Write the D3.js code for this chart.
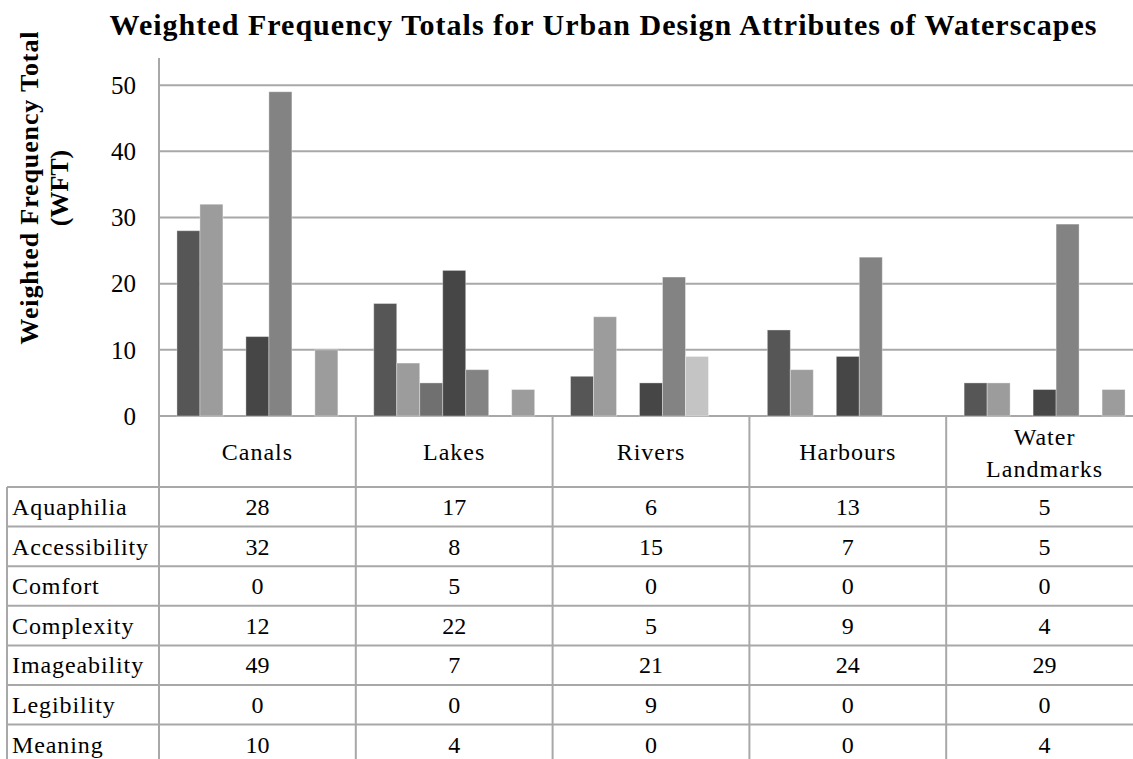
<!DOCTYPE html>
<html>
<head>
<meta charset="utf-8">
<script src="https://cdn.jsdelivr.net/npm/d3@7"></script>
<style>
  body { margin: 0; background: #fff; }
</style>
</head>
<body>
<div class="chart"></div>
<script>
// data
var categories = ["Canals", "Lakes", "Rivers", "Harbours", "Water Landmarks"];
var series = ["Aquaphilia", "Accessibility", "Comfort", "Complexity", "Imageability", "Legibility", "Meaning"];
var aquaphilia    = [28, 17, 6, 13, 5];
var accessibility = [32, 8, 15, 7, 5];
var comfort       = [0, 5, 0, 0, 0];
var complexity    = [12, 22, 5, 9, 4];
var imageability  = [49, 7, 21, 24, 29];
var legibility    = [0, 0, 9, 0, 0];
var meaning       = [10, 4, 0, 0, 4];
var yTicks = [0, 10, 20, 30, 40, 50];

var values = [aquaphilia, accessibility, comfort, complexity, imageability, legibility, meaning];
var colors = ["#565656", "#9c9c9c", "#707070", "#464646", "#838383", "#c4c4c4", "#9c9c9c"];
var gridColor = "#a8a8a8";
var serif = "'Liberation Serif', 'Times New Roman', Times, serif";

var W = 1133, H = 759;
var svg = d3.select(".chart")
    .append("svg")
    .attr("width", W)
    .attr("height", H)
    .attr("font-family", serif)
    .style("font-family", serif)

var left = 159, plotTop = 58, base = 416;
var x = d3.scaleBand().domain(categories).range([left, left + 5 * 196.8]).padding(0);
var xs = d3.scaleBand().domain(series).range([0, x.bandwidth()]).paddingInner(0).paddingOuter(0.78);
var y = d3.scaleLinear().domain([0, 54.1]).range([base, plotTop]);

function txt(sel, size) {
    return sel.append("text")
        .style("font-family", serif)
        .style("font-size", size + "px")
        .attr("fill", "#000")
}

// gridlines
svg.selectAll("line.grid")
    .data(yTicks)
    .enter()
    .append("line")
    .attr("class", "grid")
    .attr("x1", left)
    .attr("x2", W)
    .attr("y1", function (d) { return y(d); })
    .attr("y2", function (d) { return y(d); })
    .attr("stroke", gridColor)
    .attr("stroke-width", 2)

// tick labels
yTicks.forEach(function (t) {
    txt(svg, 25)
        .attr("x", 136)
        .attr("y", y(t))
        .attr("dy", "0.35em")
        .attr("text-anchor", "end")
        .text(t)
})

// bars
var groups = svg.selectAll("g.cat")
    .data(categories)
    .enter()
    .append("g")
    .attr("class", "cat")
    .attr("transform", function (d) { return "translate(" + x(d) + ",0)"; })

groups.selectAll("rect")
    .data(function (c, ci) {
        return series.map(function (s, si) { return { s: s, si: si, v: values[si][ci] }; })
            .filter(function (d) { return d.v > 0; });
    })
    .enter()
    .append("rect")
    .attr("x", function (d) { return xs(d.s); })
    .attr("width", xs.bandwidth())
    .attr("y", function (d) { return y(d.v); })
    .attr("height", function (d) { return base - y(d.v); })
    .style("fill", function (d) { return colors[d.si]; })
    .attr("stroke", "rgba(255,255,255,0.35)")
    .attr("stroke-width", 1)

// data table
var headTop = base, rowTop = 487, rowH = 39.6, tableLeft = 7;
var tableBottom = rowTop + rowH * series.length;

var hLines = d3.range(series.length + 1).map(function (i) { return rowTop + i * rowH; });
svg.selectAll("line.row")
    .data(hLines)
    .enter()
    .append("line")
    .attr("x1", tableLeft)
    .attr("x2", W)
    .attr("y1", function (d) { return d; })
    .attr("y2", function (d) { return d; })
    .attr("stroke", gridColor)
    .attr("stroke-width", 2)

svg.append("line")
    .attr("x1", left).attr("x2", left)
    .attr("y1", plotTop).attr("y2", tableBottom)
    .attr("stroke", gridColor).attr("stroke-width", 2)

svg.append("line")
    .attr("x1", tableLeft).attr("x2", tableLeft)
    .attr("y1", rowTop).attr("y2", tableBottom)
    .attr("stroke", gridColor).attr("stroke-width", 2)

svg.selectAll("line.col")
    .data(categories.slice(1))
    .enter()
    .append("line")
    .attr("x1", function (d) { return x(d); })
    .attr("x2", function (d) { return x(d); })
    .attr("y1", headTop)
    .attr("y2", tableBottom)
    .attr("stroke", gridColor)
    .attr("stroke-width", 2)

// header labels
categories.forEach(function (d) {
    var words = d.split(" ");
    var cx = x(d) + x.bandwidth() / 2;
    var t = txt(svg, 24).attr("text-anchor", "middle").style("letter-spacing", "1px");
    if (words.length === 1) {
        t.append("tspan").attr("x", cx).attr("y", 460).text(d);
    } else {
        t.append("tspan").attr("x", cx).attr("y", 445).text(words[0]);
        t.append("tspan").attr("x", cx).attr("y", 477).text(words[1]);
    }
})

// row labels and cell values
series.forEach(function (s, si) {
    var yy = rowTop + si * rowH + 28;
    txt(svg, 24)
        .attr("x", 12)
        .attr("y", yy)
        .style("letter-spacing", "0.9px")
        .text(s)
    values[si].forEach(function (v, ci) {
        txt(svg, 24)
            .attr("x", x(categories[ci]) + x.bandwidth() / 2)
            .attr("y", yy)
            .attr("text-anchor", "middle")
            .text(v)
    })
})

// title
txt(svg, 30)
    .attr("x", 603)
    .attr("y", 35)
    .attr("text-anchor", "middle")
    .style("font-weight", "bold")
    .attr("textLength", 987)
    .attr("lengthAdjust", "spacing")
    .text("Weighted Frequency Totals for Urban Design Attributes of Waterscapes")

// y axis title
var yl = txt(svg, 26)
    .attr("transform", "translate(38,188) rotate(-90)")
    .attr("text-anchor", "middle")
    .style("font-weight", "bold")
yl.append("tspan").attr("x", 0).attr("y", 0)
    .attr("textLength", 313).attr("lengthAdjust", "spacing")
    .text("Weighted Frequency Total")
yl.append("tspan").attr("x", 0).attr("y", 30).text("(WFT)")
</script>
</body>
</html>
